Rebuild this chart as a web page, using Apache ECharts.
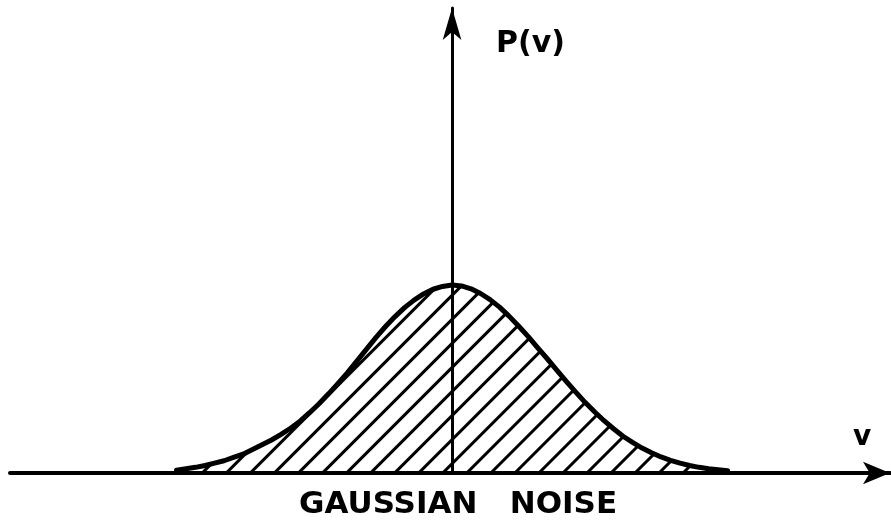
<!DOCTYPE html>
<html>
<head>
<meta charset="utf-8">
<script src="https://cdn.jsdelivr.net/npm/echarts@6/dist/echarts.min.js"></script>
<style>
  html, body { margin: 0; padding: 0; background: #fff; }
  #chart { width: 891px; height: 525px; }
</style>
</head>
<body>
<div id="chart"></div>
<script>
// Noise amplitude v (in units of sigma), sampled every 0.1
const vValues = [
  -2.9, -2.8, -2.7, -2.6, -2.5, -2.4, -2.3, -2.2, -2.1, -2.0,
  -1.9, -1.8, -1.7, -1.6, -1.5, -1.4, -1.3, -1.2, -1.1, -1.0,
  -0.9, -0.8, -0.7, -0.6, -0.5, -0.4, -0.3, -0.2, -0.1, 0.0,
  0.1, 0.2, 0.3, 0.4, 0.5, 0.6, 0.7, 0.8, 0.9, 1.0,
  1.1, 1.2, 1.3, 1.4, 1.5, 1.6, 1.7, 1.8, 1.9, 2.0,
  2.1, 2.2, 2.3, 2.4, 2.5, 2.6, 2.7, 2.8, 2.9
];
// Probability density P(v)
const pValues = [
  0.006, 0.009, 0.012, 0.016, 0.021, 0.026, 0.033, 0.040, 0.050, 0.060,
  0.070, 0.082, 0.095, 0.110, 0.128, 0.147, 0.168, 0.190, 0.213, 0.238,
  0.263, 0.288, 0.311, 0.332, 0.351, 0.367, 0.380, 0.390, 0.396, 0.399,
  0.397, 0.391, 0.381, 0.368, 0.352, 0.333, 0.312, 0.290, 0.266, 0.243,
  0.219, 0.195, 0.172, 0.150, 0.130, 0.111, 0.094, 0.078, 0.065, 0.053,
  0.043, 0.034, 0.027, 0.021, 0.016, 0.012, 0.009, 0.007, 0.005
];

const yAxisLabel = 'P(v)';
const xAxisLabel = 'v';
const captionText = 'GAUSSIAN   NOISE';

const curve = vValues.map((v, i) => [v, pValues[i]]);

const chart = echarts.init(document.getElementById('chart'), null, { renderer: 'canvas' });
const font = '"DejaVu Sans", sans-serif';

chart.setOption({
  backgroundColor: '#ffffff',
  animation: false,
  grid: { left: 10, right: 1, top: 8, bottom: 52 },
  xAxis: {
    type: 'value',
    min: -4.653,
    max: 4.61,
    splitLine: { show: false },
    axisTick: { show: false },
    axisLabel: { show: false },
    axisLine: {
      show: true,
      onZero: true,
      symbol: ['none', 'arrow'],
      symbolSize: [17, 27],
      lineStyle: { color: '#000', width: 4 }
    },
    z: 5
  },
  yAxis: {
    type: 'value',
    min: 0,
    max: 0.987,
    splitLine: { show: false },
    axisTick: { show: false },
    axisLabel: { show: false },
    axisLine: {
      show: true,
      onZero: true,
      symbol: ['none', 'arrow'],
      symbolSize: [14, 32],
      lineStyle: { color: '#000', width: 3 }
    },
    z: 5
  },
  series: [{
    type: 'line',
    data: curve,
    smooth: false,
    showSymbol: false,
    lineStyle: { color: '#000', width: 5, join: 'round', cap: 'round' },
    itemStyle: {
      color: '#000',
      decal: {
        symbol: 'rect',
        color: '#000',
        dashArrayX: [1, 0],
        dashArrayY: [3, 14],
        rotation: -Math.PI / 4
      }
    },
    areaStyle: { color: '#ffffff', opacity: 1 },
    z: 3
  }],
  graphic: [
    {
      type: 'text', left: 496, top: 29,
      style: { text: yAxisLabel, font: 'bold 30px ' + font, fill: '#000' }
    },
    {
      type: 'text', left: 853, top: 424,
      style: { text: xAxisLabel, font: 'bold 28px ' + font, fill: '#000' }
    },
    {
      type: 'text', left: 299, top: 489,
      style: { text: captionText, font: 'bold 31px ' + font, fill: '#000' }
    }
  ]
});
</script>
</body>
</html>
